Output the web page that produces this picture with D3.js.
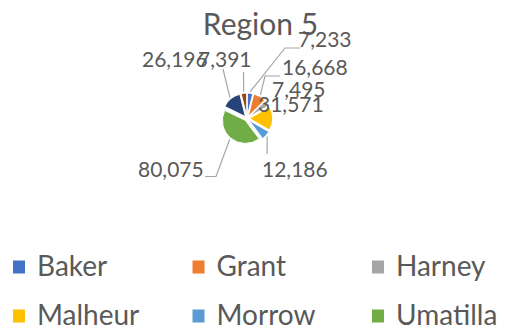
<!DOCTYPE html>
<html>
<head>
<meta charset="utf-8">
<script src="https://cdn.jsdelivr.net/npm/d3@7"></script>
<style>
  html, body { margin: 0; padding: 0; background: #fff; }
  svg { display: block; font-family: Lato, "Open Sans", sans-serif; }
</style>
</head>
<body>
<svg id="chart" width="506" height="331"></svg>
<script>
// County values for Region 5
const categories = ["Baker", "Grant", "Harney", "Malheur", "Morrow", "Umatilla", "Union", "Wallowa"];
const values = [7233, 16668, 7495, 31571, 12186, 80075, 26196, 7391];
const colors = ["#4472C4", "#ED7D31", "#A5A5A5", "#FFC000", "#5B9BD5", "#70AD47", "#264478", "#9E480E"];
const title = "Region 5";

// Label layout: left x and baseline y of each value label
const labelPos = [[298, 47], [282, 75], [272, 97], [258, 112], [262, 177], [138, 177], [142, 67], [198, 67]];
// Leader line points near each label (null = no leader line)
const leaderPts = [
  [[300, 48], [285, 48]],
  [[280, 76], [265, 76]],
  null,
  null,
  [[267, 154]],
  [[205, 176.5], [216, 176.5]],
  [[223, 69]],
  [[243.5, 72]]
];

const svg = d3.select("#chart");
const cx = 247, cy = 118.5, r = 23, explode = 2.5;
const textColor = "#595959";

const table = categories.map((c, i) => ({ name: c, value: values[i], color: colors[i] }));
const pie = d3.pie().sort(null).value(d => d.value);
const arcs = pie(table);
const arc = d3.arc().innerRadius(0).outerRadius(r);

const g = svg.append("g").attr("transform", `translate(${cx},${cy})`);
g.selectAll("path").data(arcs).join("path")
  .attr("d", arc)
  .attr("fill", d => d.data.color)
  .attr("stroke", "#fff")
  .attr("stroke-width", 1)
  .attr("transform", d => {
    const a = (d.startAngle + d.endAngle) / 2;
    return `translate(${explode * Math.sin(a)},${-explode * Math.cos(a)})`;
  });

// Leader lines from labels to slice edges
const fmt = d3.format(",");
arcs.forEach((d, i) => {
  const pts = leaderPts[i];
  if (!pts) return;
  const a = (d.startAngle + d.endAngle) / 2;
  const rr = r + explode + 1.5;
  const end = [cx + rr * Math.sin(a), cy - rr * Math.cos(a)];
  svg.append("path")
    .attr("d", d3.line()(pts.concat([end])))
    .attr("fill", "none")
    .attr("stroke", "#A6A6A6")
    .attr("stroke-width", 1.2);
});

// Value labels
svg.selectAll("text.val").data(arcs).join("text")
  .attr("class", "val")
  .attr("x", (d, i) => labelPos[i][0])
  .attr("y", (d, i) => labelPos[i][1])
  .attr("font-size", 21)
  .attr("fill", textColor)
  .text(d => fmt(d.data.value));

// Title
svg.append("text")
  .attr("x", 260.5).attr("y", 35)
  .attr("text-anchor", "middle")
  .attr("font-size", 30)
  .attr("fill", textColor)
  .text(title);

// Legend, three columns
const legX = [13, 192.5, 372];
const legend = svg.append("g");
table.forEach((d, i) => {
  const col = i % 3, row = Math.floor(i / 3);
  const x = legX[col], y = 260.5 + row * 49;
  legend.append("rect").attr("x", x).attr("y", y).attr("width", 12).attr("height", 13).attr("fill", d.color);
  legend.append("text").attr("x", x + 24).attr("y", y + 15.5)
    .attr("font-size", 28).attr("fill", textColor).text(d.name);
});
</script>
</body>
</html>
